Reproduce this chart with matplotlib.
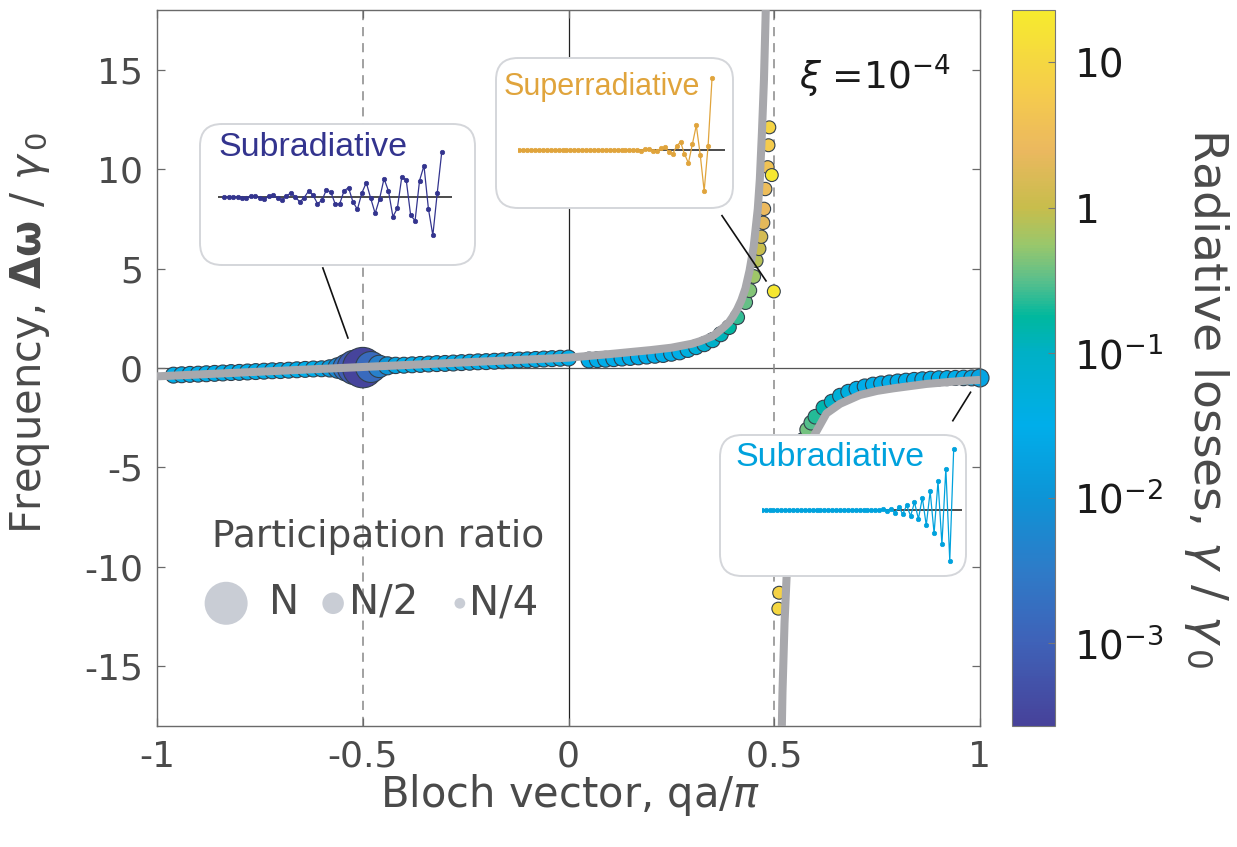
import numpy as np
import matplotlib
matplotlib.use("Agg")
import matplotlib.pyplot as plt
from matplotlib.colors import LinearSegmentedColormap, LogNorm
from matplotlib.patches import FancyBboxPatch

W, H = 1237, 847
DPI = 100
plt.rcParams['font.family'] = ['DejaVu Sans']
plt.rcParams['axes.unicode_minus'] = False
plt.rcParams['mathtext.fontset'] = 'dejavusans'

TXT = '#4a4a4a'

# ---------------- data ----------------
# infinite-chain dispersion (grey curve), two branches
curve_up_q = [-1.0, -0.5, 0.0, 0.1, 0.2, 0.25, 0.3, 0.32, 0.35, 0.36, 0.38, 0.39, 0.40, 0.41,
              0.42, 0.43, 0.44, 0.45, 0.46, 0.465, 0.47, 0.475, 0.48, 0.485]
curve_up_w = [-0.42, 0.05, 0.52, 0.70, 0.90, 1.02, 1.22, 1.35, 1.60, 1.75, 2.10, 2.30, 2.60, 2.95,
              3.40, 4.00, 4.90, 6.10, 8.00, 9.50, 11.8, 14.5, 18.5, 24.0]
curve_dn_q = [0.515, 0.518, 0.52, 0.525, 0.53, 0.54, 0.55, 0.57, 0.595, 0.627, 0.66, 0.708,
              0.75, 0.79, 0.87, 0.95, 1.0]
curve_dn_w = [-21.0, -18.5, -16.3, -12.8, -10.5, -8.0, -6.4, -4.6, -3.46, -2.28, -1.80, -1.36,
              -1.15, -1.02, -0.80, -0.66, -0.60]

# finite-chain eigenmodes: Bloch vector, frequency, radiative loss, participation ratio (/N)
mode_q = [-0.96, -0.94, -0.92, -0.90, -0.88, -0.86, -0.84, -0.82, -0.80, -0.78,
          -0.76, -0.74, -0.72, -0.70, -0.68, -0.66, -0.64, -0.62, -0.60, -0.58,
          -0.56, -0.54, -0.52, -0.50, -0.48, -0.46, -0.44, -0.42, -0.40, -0.38,
          -0.36, -0.34, -0.32, -0.30, -0.28, -0.26, -0.24, -0.22, -0.20, -0.18,
          -0.16, -0.14, -0.12, -0.10, -0.08, -0.06, -0.04, -0.02, 0.00,
          0.05, 0.07, 0.09, 0.11, 0.13, 0.15, 0.17, 0.19, 0.21, 0.23,
          0.25, 0.27, 0.29, 0.31, 0.33, 0.35, 0.37, 0.39, 0.41, 0.43,
          0.44, 0.45, 0.456, 0.463, 0.468, 0.473, 0.475, 0.478, 0.484, 0.486,
          0.488, 0.494, 0.499,
          0.510, 0.512, 0.53, 0.54, 0.55, 0.56, 0.57, 0.58, 0.59, 0.60,
          0.62, 0.64, 0.66, 0.68, 0.70, 0.72, 0.74, 0.76, 0.78, 0.80,
          0.82, 0.84, 0.86, 0.88, 0.90, 0.92, 0.94, 0.96, 0.98, 1.00]
mode_w = [-0.36, -0.34, -0.32, -0.31, -0.29, -0.27, -0.25, -0.23, -0.22, -0.20,
          -0.18, -0.16, -0.14, -0.13, -0.11, -0.09, -0.07, -0.05, -0.04, -0.02,
          0.00, 0.02, 0.03, 0.02, 0.05, 0.08, 0.11, 0.13, 0.14, 0.16,
          0.18, 0.20, 0.22, 0.23, 0.25, 0.27, 0.29, 0.31, 0.32, 0.34,
          0.36, 0.38, 0.40, 0.41, 0.43, 0.45, 0.47, 0.49, 0.50,
          0.40, 0.42, 0.44, 0.47, 0.50, 0.53, 0.56, 0.60, 0.64, 0.68,
          0.73, 0.80, 0.92, 1.05, 1.20, 1.40, 1.70, 2.05, 2.55, 3.30,
          3.90, 4.60, 5.40, 6.00, 6.60, 7.30, 8.00, 9.00, 10.1, 11.2,
          12.1, 9.70, 3.85,
          -12.1, -11.3, -7.5, -6.0, -5.0, -4.2, -3.6, -3.1, -2.75, -2.45,
          -2.00, -1.70, -1.40, -1.20, -1.05, -0.93, -0.84, -0.78, -0.73, -0.68,
          -0.64, -0.60, -0.57, -0.54, -0.52, -0.51, -0.50, -0.50, -0.50, -0.50]
mode_gamma = [0.03, 0.03, 0.03, 0.03, 0.03, 0.03, 0.03, 0.03, 0.03, 0.03,
              0.03, 0.03, 0.03, 0.03, 0.03, 0.03, 0.03, 0.03, 0.02, 0.012,
              0.006, 0.002, 0.0008, 0.0003, 0.0015, 0.004, 0.01, 0.02, 0.03, 0.03,
              0.03, 0.03, 0.03, 0.03, 0.03, 0.03, 0.03, 0.03, 0.03, 0.03,
              0.03, 0.03, 0.03, 0.03, 0.03, 0.03, 0.03, 0.03, 0.03,
              0.03, 0.03, 0.03, 0.03, 0.03, 0.03, 0.03, 0.03, 0.03, 0.03,
              0.03, 0.035, 0.045, 0.055, 0.07, 0.09, 0.12, 0.17, 0.24, 0.35,
              0.45, 0.6, 0.8, 1.0, 1.4, 2.0, 2.5, 3.0, 4.0, 6.0,
              9.0, 20.0, 20.0,
              10.0, 8.0, 3.0, 2.0, 1.2, 0.7, 0.5, 0.4, 0.3, 0.22,
              0.14, 0.09, 0.06, 0.045, 0.035, 0.03, 0.03, 0.03, 0.03, 0.03,
              0.03, 0.03, 0.03, 0.03, 0.03, 0.03, 0.03, 0.03, 0.025, 0.02]
mode_pr = [0.37, 0.37, 0.37, 0.37, 0.37, 0.37, 0.37, 0.37, 0.37, 0.37,
           0.37, 0.37, 0.37, 0.37, 0.37, 0.37, 0.37, 0.37, 0.37, 0.40,
           0.48, 0.62, 0.80, 0.94, 0.72, 0.52, 0.42, 0.38, 0.37, 0.37,
           0.37, 0.37, 0.37, 0.37, 0.37, 0.37, 0.37, 0.37, 0.37, 0.37,
           0.37, 0.37, 0.37, 0.37, 0.37, 0.37, 0.37, 0.37, 0.37,
           0.37, 0.37, 0.37, 0.37, 0.37, 0.37, 0.37, 0.37, 0.37, 0.37,
           0.36, 0.36, 0.36, 0.35, 0.35, 0.35, 0.35, 0.34, 0.34, 0.33,
           0.33, 0.32, 0.32, 0.32, 0.31, 0.31, 0.31, 0.31, 0.30, 0.30,
           0.30, 0.30, 0.30,
           0.30, 0.30, 0.31, 0.32, 0.32, 0.33, 0.33, 0.34, 0.34, 0.34,
           0.35, 0.35, 0.35, 0.35, 0.35, 0.35, 0.35, 0.35, 0.35, 0.35,
           0.35, 0.35, 0.35, 0.35, 0.35, 0.35, 0.35, 0.36, 0.37, 0.42]

# participation-ratio legend
legend_pr = [1.0, 0.5, 0.25]
legend_labels = ['N', 'N/2', 'N/4']

# mode profiles shown in the insets (site amplitude, arbitrary units)
prof_sub_blue = [0, 0, 1, 1, -1, -2, 3, 4, -2, -5,
                 3, 8, -3, -8, 3, 14, 2, -14, -1, 19,
                 7, -19, -9, 22, 16, -20, -20, 20, 29, -14,
                 -36, 13, 44, -3, -48, -4, 56, 19, -58, -33,
                 61, 52, -54, -70, 50, 95, -34, -114, 14, 135]
prof_super = [0, 0, 0, 0, 0, 0, 0, 0, 0, 0,
              0, 0, 0, 0, 0, 0, 0, 0, 0, 0,
              0, 0, 0, 0, 0, 0, 0, 0, 0, -1,
              1, -2, 3, 4, -3, -4, 6, 8, -5, -12,
              12, 24, -12, -39, 17, 74, -14, -123, 12, 215]
prof_sub_cyan = [0, 0, 0, 0, 0, 0, 0, 0, 0, 0,
                 0, 0, 0, 0, 0, 0, 0, 0, 0, 0,
                 0, 0, 0, 0, 0, 0, 0, 0, 0, -1,
                 1, 2, -4, 4, -8, 8, -12, 14, -18, 23,
                 -27, 37, -46, 56, -70, 86, -103, 124, -152, 182]

cbar_ticks = [10, 1, 0.1, 0.01, 0.001]
cbar_ticklabels = ['10', '1', '10$^{-1}$', '10$^{-2}$', '10$^{-3}$']
x_ticks = [-1, -0.5, 0, 0.5, 1]
x_ticklabels = ['-1', '-0.5', '0', '0.5', '1']
y_ticks = [-15, -10, -5, 0, 5, 10, 15]

# ---------------- colour map (parula-like) ----------------
LMIN, LMAX = -3.57, 1.36
anchor_logs = [-3.57, -3.0, -2.5, -2.0, -1.5, -1.0, -0.75, -0.5, -0.25, 0.0, 0.4, 0.8, 1.36]
anchor_cols = ['#47429a', '#3f62b8', '#2e7bc8', '#0d94d6', '#00aeea', '#00b0c6', '#00b89e',
               '#5abf8c', '#9ac76b', '#c7bd4c', '#ebb85f', '#f5cc4c', '#f6ea2e']
cmap = LinearSegmentedColormap.from_list(
    'parulaish', [((l - LMIN) / (LMAX - LMIN), c) for l, c in zip(anchor_logs, anchor_cols)])
norm = LogNorm(vmin=10 ** LMIN, vmax=10 ** LMAX)


def pr_to_area(pr):
    d_px = 43.0 * np.asarray(pr)
    return (d_px * 72.0 / DPI) ** 2


def frac_rect(left, top, right, bottom):
    return [left / W, 1 - bottom / H, (right - left) / W, (bottom - top) / H]


fig = plt.figure(figsize=(W / DPI, H / DPI), dpi=DPI)
ax = fig.add_axes(frac_rect(157, 10, 980, 726))
ax.set_xlim(-1, 1)
ax.set_ylim(-18, 18)

# reference lines
ax.axhline(0, color='#555555', lw=0.9, zorder=1)
ax.axvline(0, color='#222222', lw=0.9, zorder=1)
for xv in (-0.5, 0.5):
    ax.axvline(xv, color='#888888', lw=1.1, ls=(0, (6, 4.5)), zorder=1)

# eigenmodes
sc = ax.scatter(mode_q, mode_w, s=pr_to_area(mode_pr), c=mode_gamma, cmap=cmap, norm=norm,
                edgecolors='#33404c', linewidths=0.8, zorder=2, clip_on=False)

# dispersion curve
ax.plot(curve_up_q, curve_up_w, color='#a8a8ac', lw=5.8, solid_capstyle='butt', zorder=3)
ax.plot(curve_dn_q, curve_dn_w, color='#a8a8ac', lw=5.8, solid_capstyle='butt', zorder=3)

# axes styling
for sp in ax.spines.values():
    sp.set_color('#6a6a6a')
    sp.set_linewidth(1.0)
ax.tick_params(direction='in', length=6, width=0.9, color='#6a6a6a', top=True, right=True,
               labelsize=26, labelcolor=TXT, pad=10)
ax.set_xticks(x_ticks)
ax.set_xticklabels(x_ticklabels)
ax.set_yticks(y_ticks)

fig.text(570 / W, 1 - 795 / H, r'Bloch vector, qa/$\pi$', ha='center', va='center',
         fontsize=30, color=TXT)
fig.text(30 / W, 1 - 333 / H, r'Frequency, $\mathbf{\Delta\omega}$ / $\gamma_{\,0}$',
         ha='center', va='center', rotation=90, fontsize=30, color=TXT)

ax.text(0.56, 14.7, r'$\xi$ =10$^{-4}$', fontsize=27, color='#1a1a1a', ha='left', va='center')

# participation-ratio legend
ax.text(-0.463, -8.5, 'Participation ratio', fontsize=27, color=TXT, ha='center', va='center')
leg_q = [-0.832, -0.572, -0.264]
leg_text_q = [-0.727, -0.533, -0.241]
ax.scatter(leg_q, [-11.83] * 3, s=pr_to_area(legend_pr), color='#c9cdd5', edgecolors='none',
           zorder=4)
for tq, lab in zip(leg_text_q, legend_labels):
    ax.text(tq, -11.83, lab, fontsize=29, color=TXT, ha='left', va='center')

# connectors from insets to the modes
for (x0, y0), (x1, y1) in [((-0.597, 5.03), (-0.536, 1.51)),
                            ((0.373, 7.66), (0.480, 4.38)),
                            ((0.977, -1.22), (0.934, -2.65))]:
    ax.plot([x0, x1], [y0, y1], color='#111111', lw=1.2, zorder=5, clip_on=False)

# colour bar
cax = fig.add_axes(frac_rect(1012, 10, 1055, 726))
cb = fig.colorbar(sc, cax=cax)
cb.set_ticks(cbar_ticks)
cb.set_ticklabels(cbar_ticklabels)
cax.minorticks_off()
cax.tick_params(direction='in', length=5, color='#777777', labelsize=28, labelcolor='#1a1a1a',
                pad=14)
cb.outline.set_edgecolor('#777777')
cb.outline.set_linewidth(0.8)
fig.text(1206 / W, 1 - 398 / H, r'Radiative losses, $\gamma$ / $\gamma_{\,0}$', ha='center',
         va='center', rotation=270, fontsize=34, color=TXT)


# insets with mode profiles
def inset(box_px, title, title_px, title_size, color, mini_px, xlim, ylim, prof, z):
    l, t, r, b = box_px
    bax = fig.add_axes(frac_rect(l, t, r, b), zorder=z)
    bax.set_axis_off()
    w_px, h_px = r - l, b - t
    bax.add_patch(FancyBboxPatch((0, 0), 1, 1, boxstyle='round,pad=0,rounding_size=%f' % (22 / w_px),
                                 mutation_aspect=w_px / h_px, transform=bax.transAxes,
                                 facecolor='white', edgecolor='#d4d6da', lw=1.4, clip_on=False))
    bax.text((title_px[0] - l) / w_px, 1 - (title_px[1] - t) / h_px, title, transform=bax.transAxes,
             fontsize=title_size, color=color, ha='left', va='center',
             family=['Liberation Sans', 'DejaVu Sans'])
    max_ = fig.add_axes(frac_rect(*mini_px), zorder=z + 1)
    max_.set_axis_off()
    max_.set_xlim(*xlim)
    max_.set_ylim(*ylim)
    max_.axhline(0, color='#1a1a1a', lw=1.1)
    max_.plot(np.arange(len(prof)), prof, color=color, lw=0.9, marker='o', ms=3.2, mew=0.5)


inset((200, 124, 475, 265), 'Subradiative', (218, 148), 24.5, '#33348e',
      (218.3, 145, 451.7, 245), (-1.35, 51.25), (-143, 157), prof_sub_blue, 10)
inset((496, 58, 733, 208), 'Superradiative', (504, 87), 22, '#e0a43c',
      (518, 70, 725, 200), (-0.33, 52.3), (-150, 240), prof_super, 12)
inset((720, 435, 966, 576), 'Subradiative', (735, 457), 24.5, '#00a2dd',
      (761.5, 440, 962.3, 570), (-0.05, 51.2), (-180, 210), prof_sub_cyan, 14)

fig.savefig('out.png', dpi=DPI)
